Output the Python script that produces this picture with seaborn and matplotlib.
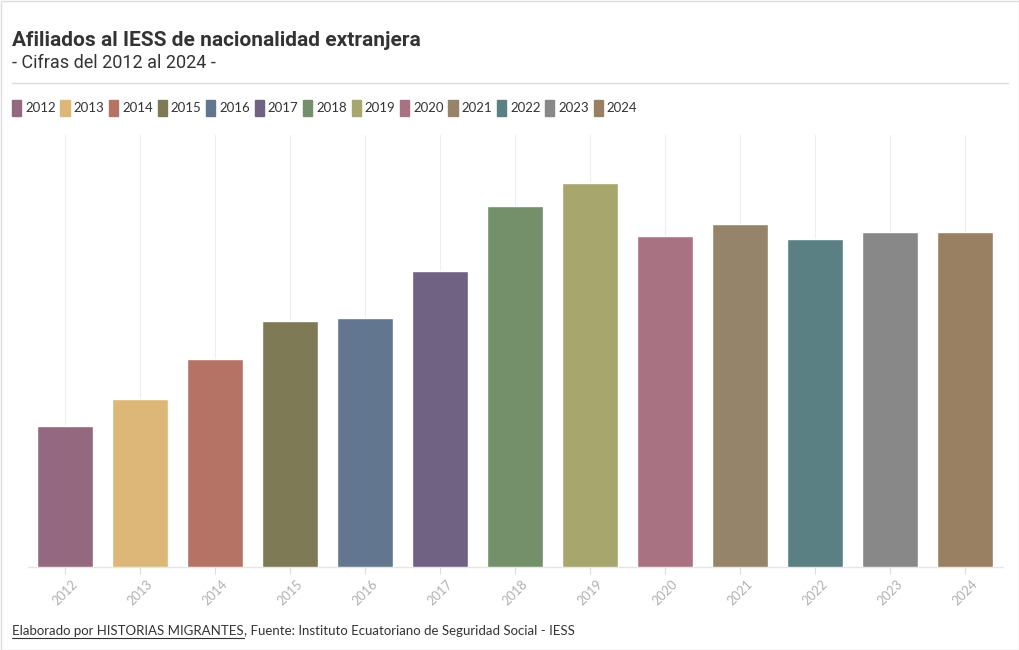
import matplotlib
matplotlib.use("Agg")
import matplotlib.pyplot as plt
import seaborn as sns
import pandas as pd
from matplotlib.patches import Patch, Rectangle
from matplotlib.lines import Line2D

years = ["2012", "2013", "2014", "2015", "2016", "2017", "2018",
         "2019", "2020", "2021", "2022", "2023", "2024"]
afiliados = [14100, 16800, 20800, 24600, 24900, 29600, 36100,
             38400, 33100, 34300, 32800, 33500, 33500]
colors = ["#94697f", "#dcb778", "#b57366", "#7d7a55", "#62778f", "#706283",
          "#74906a", "#a6a66d", "#a87283", "#96846a", "#5a8084", "#888888",
          "#9a8062"]

title = "Afiliados al IESS de nacionalidad extranjera"
subtitle = "- Cifras del 2012 al 2024 -"
credit = "Elaborado por HISTORIAS MIGRANTES"
source = ", Fuente: Instituto Ecuatoriano de Seguridad Social - IESS"

sns.set_theme(style="white")
plt.rcParams['font.family'] = ['Lato', 'DejaVu Sans']

df = pd.DataFrame({"year": years, "value": afiliados})

W, H = 1020, 650
fig = plt.figure(figsize=(W / 100, H / 100), dpi=100)
fig.patch.set_facecolor("white")

ax = fig.add_axes([27.5 / W, (H - 567) / H, (1002.5 - 27.5) / W, (567 - 135) / H])
sns.barplot(data=df, x="year", y="value", hue="year", palette=colors,
            legend=False, width=0.75, saturation=1, ax=ax, zorder=3)
ax.set_ylim(0, 43200)
ax.set_xlim(-0.5, len(years) - 0.5)
ax.set_xlabel("")
ax.set_ylabel("")
ax.set_yticks([])
for s in ["top", "right", "left"]:
    ax.spines[s].set_visible(False)
ax.spines["bottom"].set_color("#e6e6e6")
ax.spines["bottom"].set_linewidth(1)
ax.xaxis.grid(True, color="#eeeeee", linewidth=0.8, zorder=0)
ax.tick_params(axis="x", colors="#dddddd", length=5, width=0.8, pad=3,
               labelcolor="#b0b0b0", labelsize=9.2, bottom=True)
for lab in ax.get_xticklabels():
    lab.set_rotation(45)
    lab.set_ha("center")
    lab.set_va("top")

# Title & subtitle
fig.text(12 / W, 1 - 40 / H, title, fontsize=15, fontweight="bold",
         family=["Roboto", "DejaVu Sans"], color="#333333", va="center", ha="left")
fig.text(12 / W, 1 - 63 / H, subtitle, fontsize=13,
         family=["Roboto", "DejaVu Sans"], color="#333333", va="center", ha="left")
fig.add_artist(Line2D([12 / W, 1008 / W], [1 - 83 / H, 1 - 83 / H],
                      color="#dddddd", linewidth=1, transform=fig.transFigure))

# Legend
handles = [Patch(facecolor=c, edgecolor=c, label=y) for y, c in zip(years, colors)]
fig.legend(handles=handles, loc="center left", bbox_to_anchor=(12 / W, 1 - 108 / H),
           ncol=len(years), frameon=False, fontsize=9.5, handlelength=0.7,
           handleheight=1.4, handletextpad=0.3, columnspacing=0.35,
           borderaxespad=0, borderpad=0, labelcolor="#333333")

# Footer
t1 = fig.text(12 / W, 1 - 631 / H, credit, fontsize=9.5, color="#333333",
              va="center", ha="left")
fig.canvas.draw()
bb = t1.get_window_extent()
fig.add_artist(Line2D([bb.x0 / W, bb.x1 / W], [(bb.y0 - 0.5) / H, (bb.y0 - 0.5) / H],
                      color="#333333", linewidth=0.8, transform=fig.transFigure))
fig.text(bb.x1 / W, 1 - 631 / H, source, fontsize=9.5, color="#333333",
         va="center", ha="left")

# outer border
fig.add_artist(Rectangle((0.5 / W, 0.5 / H), (W - 1) / W, (H - 1) / H,
                         fill=False, edgecolor="#dddddd", linewidth=1,
                         transform=fig.transFigure))

fig.savefig("out.png", dpi=100, facecolor="white")
